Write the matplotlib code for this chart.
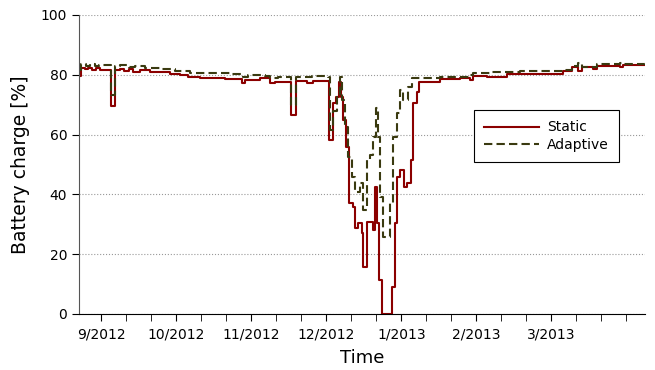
"""Battery charge over time: static vs adaptive."""

import matplotlib
matplotlib.use("Agg")
import matplotlib.pyplot as plt
from matplotlib.ticker import FixedLocator

# step breakpoints (day index, battery charge %)
static_days = [0, 0.8, 2.4, 3.6, 5.2, 6.8, 8.4, 13, 14.6, 16.4, 18, 20, 21.6, 24.4,
               28.4, 32.4, 36.4, 40.4, 43.6, 48.4, 58.4, 65.2, 66.4, 72.4, 76.4, 78.4,
               85, 87, 91.2, 93.6, 100.2, 101.8, 103, 104, 104.8, 105.7, 107, 108.1,
               109.7, 110.4, 111.7, 113.1, 113.7, 115.1, 117.5, 118.4, 119.3, 120.1,
               121.1, 125.1, 126.4, 127.3, 128.4, 130, 131.2, 132.7, 133.6, 135.1, 136,
               144.4, 152.4, 156.4, 157.6, 163.2, 171.2, 193.6, 197.2, 199.6, 201.2,
               205.6, 207.2, 216.4, 217.6, 226.4]
static_vals = [79.7, 82.3, 81.8, 82.4, 81.5, 82.3, 81.7, 69.7, 81.5, 82.0, 81.2, 81.9, 81.0, 81.6,
               81.0, 80.8, 80.3, 79.8, 79.2, 79.0, 78.7, 77.2, 78.3, 78.9, 77.2, 77.5,
               66.5, 77.9, 77.2, 77.9, 58.2, 70.5, 72.7, 77.5, 72.7, 64.9, 56.0, 37.0,
               35.9, 28.6, 30.3, 27.0, 15.8, 30.9, 28.1, 42.6, 30.3, 11.4,
               0.0, 9.1, 30.3, 45.9, 48.0, 42.6, 43.7, 51.5, 70.5, 74.3, 77.7,
               78.5, 79.0, 78.3, 79.6, 79.4, 80.3, 81.4, 82.7, 81.4, 82.7,
               81.8, 83.0, 82.5, 83.3, 83.3]

adaptive_days = [0, 0.8, 2.8, 4.4, 6.4, 8, 13, 14.6, 16.4, 20, 22.4, 26.4, 32.4, 38.4,
                 44.4, 60.4, 65.6, 67.6, 74.4, 76.4, 79.6, 85, 87, 93.2, 99.6, 100.6,
                 101.6, 103.1, 104.4, 105.1, 106.4, 107.6, 109.1, 110.4, 112.4, 113.7,
                 115.1, 116.4, 117.7, 118.8, 119.7, 120.4, 121.7, 124.4, 125.7, 127.1,
                 128.4, 129.7, 131.7, 133.1, 144.4, 156.4, 157.6, 164.4, 176.4, 193.6,
                 197.2, 199.6, 201.2, 207.2, 216.4, 217.6, 226.4]
adaptive_vals = [81.5, 83.7, 83.0, 83.6, 82.8, 83.3, 73.2, 82.8, 83.3, 82.6, 83.0, 82.3, 81.8, 81.2,
                 80.6, 80.3, 79.2, 80.0, 79.7, 78.8, 79.2, 70.0, 79.2, 79.6, 79.3, 61.5,
                 68.0, 72.7, 79.4, 71.6, 62.6, 52.6, 45.9, 40.9, 43.8, 34.8,
                 51.5, 53.2, 59.3, 68.8, 59.3, 39.2, 25.9, 37.0, 59.3, 67.1,
                 74.9, 71.6, 76.0, 78.8, 79.2, 79.8, 80.6, 80.8, 81.3, 81.7,
                 82.8, 83.8, 82.5, 83.6, 84.0, 83.6, 84.3]

tick_days = [9, 39, 69, 99, 129, 159, 189]
tick_labels = ["9/2012", "10/2012", "11/2012", "12/2012", "1/2013", "2/2013", "3/2013"]

fig = plt.figure(figsize=(6.55, 3.7), dpi=100)
ax = fig.add_axes([0.1206, 0.1514, 0.8641, 0.8081])

ax.plot(static_days, static_vals, drawstyle="steps-post", color="#8b0000",
        lw=1.5, label="Static")
ax.plot(adaptive_days, adaptive_vals, drawstyle="steps-post", color="#3a3a10",
        lw=1.5, ls="--", dashes=(4, 2), label="Adaptive")

ax.set_xlim(0, 226.4)
ax.set_ylim(0, 100)
ax.set_yticks([0, 20, 40, 60, 80, 100])
ax.yaxis.grid(True, ls=":", color="#999999", lw=0.8)

ax.set_xticks(tick_days)
ax.set_xticklabels(tick_labels)
ax.xaxis.set_minor_locator(FixedLocator(range(9, 227, 10)))
ax.tick_params(axis="x", which="both", length=5, direction="out", labelsize=10, pad=5)
ax.tick_params(axis="y", length=5, labelsize=10)

for s in ("top", "right"):
    ax.spines[s].set_visible(False)
ax.spines["left"].set_color("#555555")

ax.set_xlabel("Time", fontsize=13, labelpad=5)
ax.set_ylabel("Battery charge [%]", fontsize=13.5, labelpad=8)

leg = ax.legend(loc="upper left", bbox_to_anchor=(0.698, 0.682), fontsize=10,
                handlelength=3.9, handletextpad=0.6, fancybox=False, framealpha=1,
                borderaxespad=0, borderpad=0.75, labelspacing=0.25)
leg.get_frame().set_edgecolor("black")
leg.get_frame().set_linewidth(0.8)

fig.savefig("out.png", dpi=100)
